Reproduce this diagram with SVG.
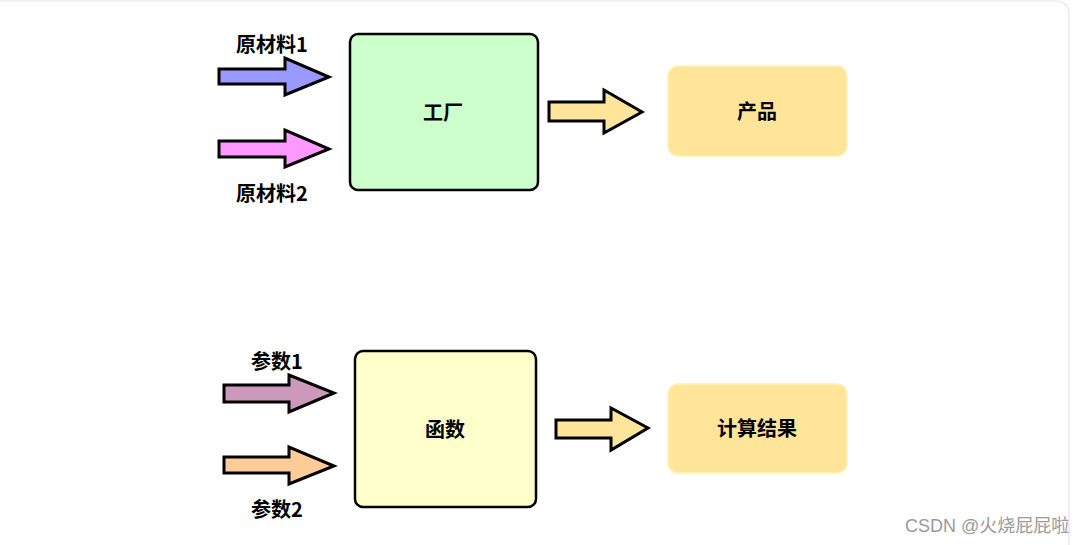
<svg xmlns="http://www.w3.org/2000/svg" width="1092" height="545" viewBox="0 0 1092 545">
<style>
.t{font-family:"Noto Sans CJK SC","Noto Sans",sans-serif;font-weight:bold;font-size:20px;fill:#000;text-anchor:middle;dominant-baseline:central}
.arr{stroke:#000;stroke-width:3;stroke-linejoin:miter}
.box{stroke:#000;stroke-width:2.5}
.res{fill:#ffe599;stroke:#fff2b0;stroke-width:1.5}
.wm{font-family:"Liberation Sans","Noto Sans CJK SC",sans-serif;font-size:18px;fill:#9a9a9a}
</style>
<rect width="1092" height="545" fill="#fff"/>
<rect x="-20" y="1" width="1089" height="580" rx="12" fill="none" stroke="#e4e4e4" stroke-width="1.2"/>
<g id="connectors">
<path class="arr" fill="#9999ff" d="M219,69 H285 V58 L329,77 L285,95 V84 H219 Z"/>
<path class="arr" fill="#ff99ff" d="M219,141 H285 V130 L329,149 L285,167 V157 H219 Z"/>
<path class="arr" fill="#ffe599" d="M549,102 H604 V90 L642,112 L604,133 V121 H549 Z"/>
<path class="arr" fill="#cc99bb" d="M224,385 H289 V375 L334,393 L289,412 V402 H224 Z"/>
<path class="arr" fill="#ffcc99" d="M224,457 H289 V447 L334,466 L289,484 V473 H224 Z"/>
<path class="arr" fill="#ffe599" d="M556,420 H611 V408 L648,428 L611,450 V438 H556 Z"/>
</g>
<g id="label-raw1"><text class="t" x="272" y="43.5">原材料1</text></g>
<g id="label-raw2"><text class="t" x="272" y="192.5">原材料2</text></g>
<g id="factory"><rect class="box" x="350" y="34" width="188" height="156" rx="8" fill="#ccffcc"/><text class="t" x="443" y="111.5">工厂</text></g>
<g id="product"><rect class="res" x="668" y="66" width="179" height="90" rx="10"/><text class="t" x="757" y="110.5">产品</text></g>
<g id="label-p1"><text class="t" x="277" y="360.5">参数1</text></g>
<g id="label-p2"><text class="t" x="277" y="508.5">参数2</text></g>
<g id="function"><rect class="box" x="355" y="351" width="181" height="156" rx="8" fill="#ffffcc"/><text class="t" x="445" y="428.5">函数</text></g>
<g id="result"><rect class="res" x="668" y="384" width="179" height="89" rx="10"/><text class="t" x="757" y="427.5">计算结果</text></g>
<text class="wm" x="905" y="532">CSDN @火烧屁屁啦</text>
</svg>
